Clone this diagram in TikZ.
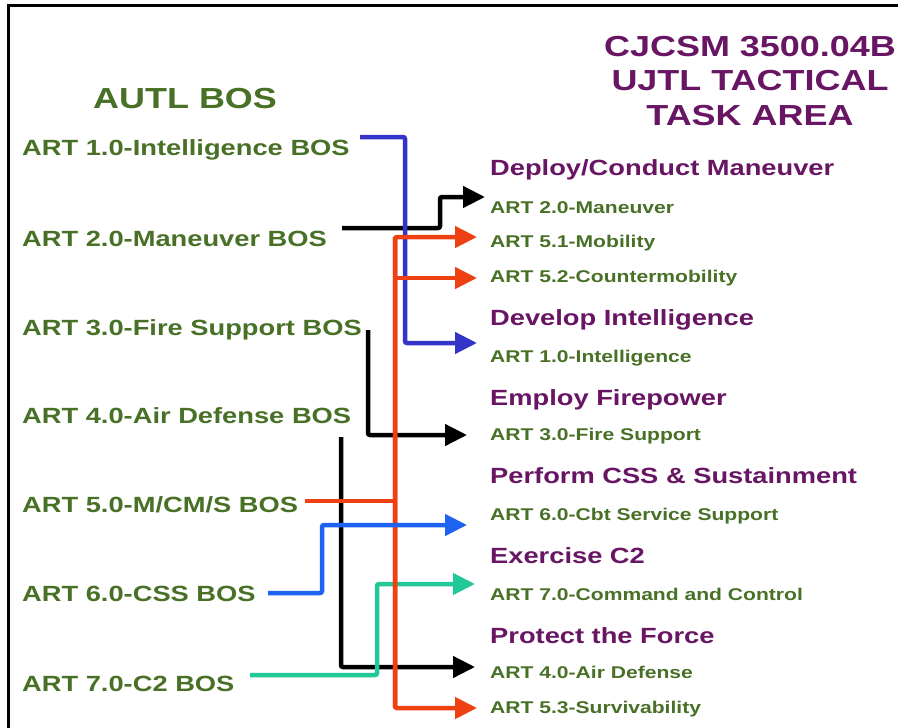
\documentclass[tikz,border=0pt]{standalone}
\usepackage{fontspec}
\setmainfont{Liberation Sans}[FakeStretch=1.24]
\usetikzlibrary{arrows.meta}
\definecolor{grn}{RGB}{72,112,38}
\definecolor{prp}{RGB}{104,22,100}
\definecolor{ablue}{RGB}{52,52,200}
\definecolor{cblue}{RGB}{30,100,240}
\definecolor{ared}{RGB}{238,64,18}
\definecolor{ateal}{RGB}{34,200,152}
\begin{document}
\begin{tikzpicture}[x=1pt,y=-1pt,
  lab/.style={anchor=base west, inner sep=0pt, text=grn, font=\bfseries\fontsize{22}{26}\selectfont},
  cat/.style={anchor=base west, inner sep=0pt, text=prp, font=\bfseries\fontsize{22}{26}\selectfont},
  sub/.style={anchor=base west, inner sep=0pt, text=grn, font=\bfseries\fontsize{17}{20}\selectfont},
  ttl/.style={anchor=base, inner sep=0pt, text=prp, font=\bfseries\fontsize{29}{34}\selectfont},
  conn/.style={line width=4.5pt, rounded corners=2pt},
  tip/.style={-{Triangle[length=22pt,width=21pt]}},
  frame/.style={line width=3pt, black}
]
\useasboundingbox (0,0) rectangle (902,728);
\fill[white] (0,0) rectangle (902,728);
% frame
\coordinate (fbl) at (8,728);
\coordinate (ftl) at (8,5);
\coordinate (ftr) at (898,5);
\draw[frame] (fbl) -- (ftl) -- (ftr);

% titles
\node[lab, font=\bfseries\fontsize{29}{34}\selectfont] (autl) at (93,108) {AUTL BOS};
\node[ttl] (t1) at (750,56) {CJCSM 3500.04B};
\node[ttl] (t2) at (750,90) {UJTL TACTICAL};
\node[ttl] (t3) at (750,125) {TASK AREA};

% left labels
\node[lab] (l1) at (22,155) {ART 1.0-Intelligence BOS};
\node[lab] (l2) at (22,246) {ART 2.0-Maneuver BOS};
\node[lab] (l3) at (22,335) {ART 3.0-Fire Support BOS};
\node[lab] (l4) at (22,423) {ART 4.0-Air Defense BOS};
\node[lab] (l5) at (22,512) {ART 5.0-M/CM/S BOS};
\node[lab] (l6) at (22,601) {ART 6.0-CSS BOS};
\node[lab] (l7) at (22,691) {ART 7.0-C2 BOS};

% right categories
\node[cat] (c1) at (490,175) {Deploy/Conduct Maneuver};
\node[cat] (c2) at (490,325) {Develop Intelligence};
\node[cat] (c3) at (490,405) {Employ Firepower};
\node[cat] (c4) at (490,483) {Perform CSS \& Sustainment};
\node[cat] (c5) at (490,563) {Exercise C2};
\node[cat] (c6) at (490,643) {Protect the Force};

% right tasks
\node[sub] (r20) at (490,213) {ART 2.0-Maneuver};
\node[sub] (r51) at (490,247) {ART 5.1-Mobility};
\node[sub] (r52) at (490,282) {ART 5.2-Countermobility};
\node[sub] (r10) at (490,362) {ART 1.0-Intelligence};
\node[sub] (r30) at (490,440) {ART 3.0-Fire Support};
\node[sub] (r60) at (490,520) {ART 6.0-Cbt Service Support};
\node[sub] (r70) at (490,600) {ART 7.0-Command and Control};
\node[sub] (r40) at (490,678) {ART 4.0-Air Defense};
\node[sub] (r53) at (490,713) {ART 5.3-Survivability};

% connector endpoints
\coordinate (s1) at (360,137);  \coordinate (e1) at (477,343);
\coordinate (s2) at (342,228);  \coordinate (e2) at (485,197);
\coordinate (s3) at (368,330);  \coordinate (e3) at (467,435);
\coordinate (s4) at (341,437);  \coordinate (e4) at (475,667);
\coordinate (s5) at (305,501);  \coordinate (rj) at (395,501);
\coordinate (e51) at (477,237); \coordinate (e52) at (477,278); \coordinate (e53) at (477,708);
\coordinate (s6) at (268,593);  \coordinate (e6) at (467,525);
\coordinate (s7) at (250,675);  \coordinate (e7) at (475,584);

% black connectors
\draw[conn, tip, black] (s2) -- (440,228) -- (440,197) -- (e2);
\draw[conn, tip, black] (s3) -- (s3 |- e3) -- (e3);
\draw[conn, tip, black] (s4) -- (s4 |- e4) -- (e4);
% intelligence (blue)
\draw[conn, tip, ablue] (s1) -- (405,137) -- (405,343) -- (e1);
% C2 (teal)
\draw[conn, tip, ateal] (s7) -- (377,675) -- (377,584) -- (e7);
% M/CM/S (red)
\draw[conn, tip, ared] (rj |- e53) -- (rj |- e51) -- (e51);
\draw[conn, tip, ared] (rj |- e52) -- (e52);
\draw[conn, tip, ared] (rj |- e51) -- (rj |- e53) -- (e53);
\draw[conn, ared] (s5) -- (rj);
% CSS (bright blue)
\draw[conn, tip, cblue] (s6) -- (322,593) -- (322,525) -- (e6);
\end{tikzpicture}
\end{document}
